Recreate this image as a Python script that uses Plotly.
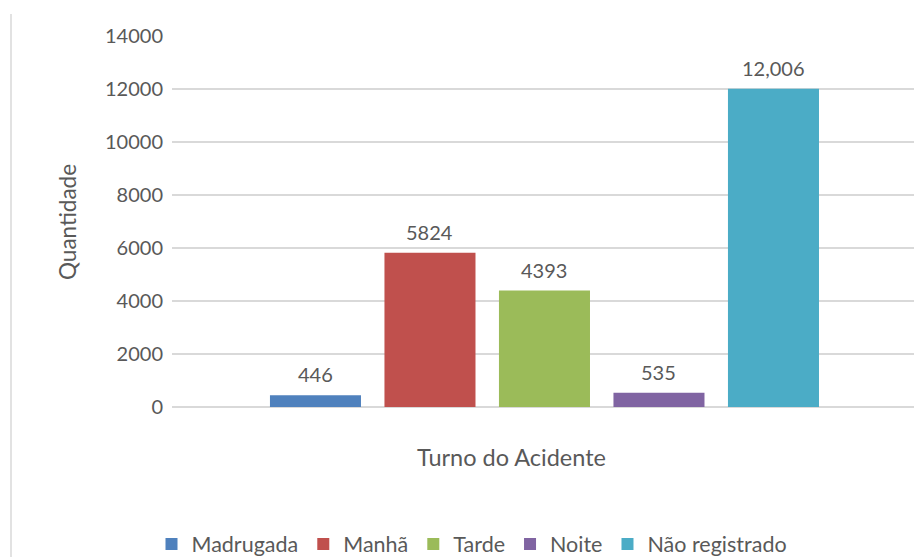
import plotly.graph_objects as go

categories = ["Madrugada", "Manhã", "Tarde", "Noite", "Não registrado"]
values = [446, 5824, 4393, 535, 12006]
labels = ["446", "5824", "4393", "535", "12,006"]
colors = ["#4F81BD", "#C0504D", "#9BBB59", "#8064A2", "#4BACC6"]
y_ticks = [0, 2000, 4000, 6000, 8000, 10000, 12000, 14000]

FONT = "Lato"
TXT = "#595959"

# page body has an 8px margin; plot area in reference: x 172..915, y 36..407
PW, PH = 743, 371
X0, Y0 = 172, 407

fig = go.Figure()
for name, v, c in zip(categories, values, colors):
    fig.add_trace(go.Bar(
        x=[name], y=[v], name=name, marker_color=c, marker_line_width=0,
    ))

label_annotations = [
    dict(x=name, y=v, xref="x", yref="y", text=lab, showarrow=False,
         xanchor="center", yanchor="bottom", yshift=7,
         font=dict(family=FONT, size=20, color=TXT))
    for name, v, lab in zip(categories, values, labels)
]

fig.update_layout(
    width=914, height=549,
    margin=dict(l=164, r=7, t=28, b=150, autoexpand=False),
    paper_bgcolor="white", plot_bgcolor="white",
    barmode="overlay", bargap=0.205,
    font=dict(family=FONT, size=20, color=TXT),
    showlegend=True,
    legend=dict(orientation="h", x=(472 - X0) / PW, xanchor="center",
                y=(Y0 - 544) / PH, yanchor="middle",
                font=dict(family=FONT, size=21.5, color=TXT), itemwidth=30,
                traceorder="normal"),
    yaxis=dict(range=[0, 14000], tickvals=y_ticks, ticktext=[str(t) for t in y_ticks],
               showgrid=True, gridcolor="#D9D9D9", gridwidth=1.5, zeroline=True,
               zerolinecolor="#D9D9D9", zerolinewidth=1.5, showline=False,
               ticks="", ticklen=0, automargin=False, ticklabelstandoff=8,
               tickfont=dict(family=FONT, size=20, color=TXT)),
    xaxis=dict(showticklabels=False, showgrid=False, zeroline=False, showline=False,
               automargin=False, range=[-1.253, 5.236],
               categoryorder="array", categoryarray=categories),
    annotations=label_annotations + [
        dict(text="Turno do Acidente", xref="paper", yref="paper",
             x=(511 - X0) / PW, y=(Y0 - 457) / PH, xanchor="center",
             yanchor="middle", showarrow=False,
             font=dict(family=FONT, size=23.5, color=TXT)),
        dict(text="Quantidade", xref="paper", yref="paper", textangle=-90,
             x=(67 - X0) / PW, y=(Y0 - 222) / PH, xanchor="center",
             yanchor="middle", showarrow=False,
             font=dict(family=FONT, size=22.5, color=TXT)),
    ],
    shapes=[dict(type="line", xref="paper", yref="paper",
                 x0=(11 - X0) / PW, x1=(11 - X0) / PW,
                 y0=(Y0 - 14) / PH, y1=(Y0 - 560) / PH,
                 line=dict(color="#D9D9D9", width=1.5))],
)

fig.write_html("out.html")
